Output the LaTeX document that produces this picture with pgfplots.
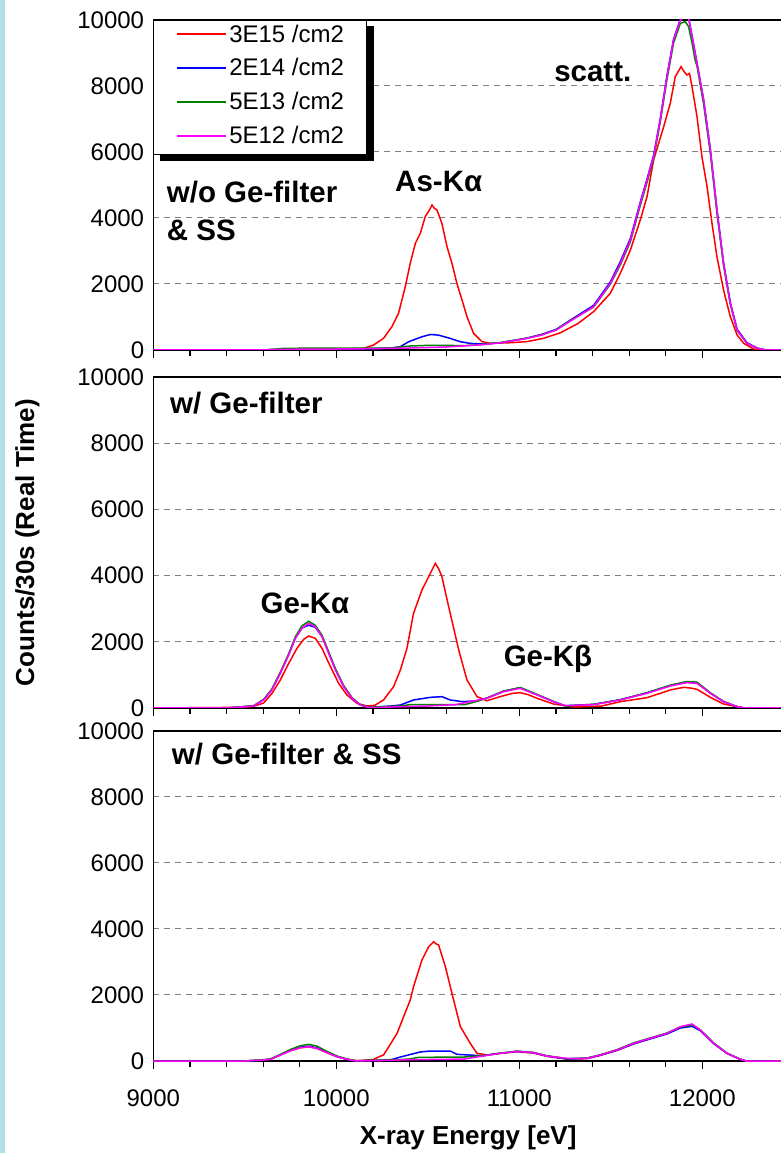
\documentclass[border=0pt]{standalone}
\usepackage{fontspec}
\setmainfont{Liberation Sans}
\usepackage{pgfplots}
\pgfplotsset{compat=1.18}
\definecolor{stripcol}{RGB}{176,224,230}
\definecolor{gridgray}{RGB}{128,128,128}
\definecolor{xred}{RGB}{255,0,0}
\definecolor{xblue}{RGB}{0,0,255}
\definecolor{xgreen}{RGB}{0,128,0}
\definecolor{xmag}{RGB}{255,0,255}
\newcommand{\tickfont}{\fontsize{24}{24}\selectfont}
\newcommand{\annfont}{\fontsize{29.5}{30}\selectfont\bfseries}
\tikzset{ann/.style={font=\annfont, anchor=base west, inner sep=0pt}}
\pgfplotsset{
 panel/.style={
  scale only axis, width=629.7pt, height=330pt, anchor=south west,
  xmin=9000, xmax=12441, ymin=0, ymax=10000,
  xtick={9000,10000,11000,12000}, minor x tick num=4,
  ytick={0,2000,4000,6000,8000,10000},
  tick align=outside, xtick pos=left, ytick pos=left,
  ytick style={draw=none},
  major tick length=8pt, minor tick length=6pt,
  xtick style={black, line width=1.2pt},
  ymajorgrids, grid style={gridgray, line width=1pt, dash pattern=on 6pt off 5pt},
  axis line style={black, line width=1.5pt},
  scaled y ticks=false, scaled x ticks=false,
  /pgf/number format/assume math mode=true,
  /pgf/number format/1000 sep={},
  yticklabel style={font=\tickfont, anchor=east, inner sep=0pt, xshift=-1pt},
  xticklabel style={font=\tickfont, yshift=-17pt},
  every axis plot/.append style={line width=1.5pt},
 },
}
\begin{document}
\begin{tikzpicture}
\useasboundingbox (0,0) rectangle (780pt,1153pt);
\fill[stripcol] (0,0) rectangle (5pt,1153pt);

% ---------------- Panel 1 ----------------
\begin{axis}[panel, at={(153.3pt,803pt)}, xticklabels={},
  legend style={at={(0,1)}, anchor=north west, draw=none, fill=none,
    font=\tickfont, inner xsep=19.5pt, inner ysep=4.5pt, row sep=15pt,
    nodes={inner xsep=2.5pt, inner ysep=0pt}},
  legend cell align=left,
  legend image code/.code={\path[draw=none] (0pt,0pt) -- (53pt,0pt); \draw[#1, line width=1.5pt] (4pt,0pt) -- (53pt,0pt);}]
\addplot[xred] coordinates {(9000,0) (9600,0) (9800,10) (10000,20) (10150,50) (10204,152) (10258,354) (10304,707) (10340,1111) (10377,1919) (10404,2626) (10432,3232) (10459,3535) (10486,4040) (10510,4250) (10523,4394) (10535,4300) (10550,4242) (10577,3838) (10605,3131) (10632,2626) (10659,2020) (10687,1515) (10714,1010) (10750,505) (10796,253) (10842,202) (10950,220) (11042,253) (11130,350) (11224,520) (11320,800) (11406,1162) (11497,1717) (11552,2323) (11607,3030) (11661,3939) (11698,4646) (11734,5758) (11789,6768) (11825,7475) (11852,8282) (11884,8586) (11898,8450) (11916,8333) (11930,8380) (11944,7980) (11971,7070) (11998,5858) (12026,4949) (12053,3838) (12080,2828) (12116,1818) (12153,1010) (12190,455) (12226,202) (12280,30) (12330,0) (12441,0)};
\addlegendentry{3E15 /cm2}
\addplot[xblue] coordinates {(9000,0) (9600,0) (9700,20) (10000,30) (10200,40) (10300,60) (10350,100) (10395,250) (10468,400) (10514,470) (10559,450) (10623,350) (10678,250) (10732,200) (10805,180) (10900,220) (11042,360) (11120,470) (11200,620) (11300,980) (11406,1350) (11497,2060) (11552,2680) (11607,3380) (11661,4480) (11698,5180) (11734,5900) (11770,7000) (11807,8320) (11843,9420) (11880,10020) (11907,10100) (11925,10080) (11944,9520) (11971,8700) (12007,7600) (12044,6080) (12080,4260) (12116,2650) (12153,1440) (12190,630) (12244,220) (12299,60) (12350,0) (12441,0)};
\addlegendentry{2E14 /cm2}
\addplot[xgreen] coordinates {(9000,0) (9600,0) (9716,50) (10000,60) (10200,60) (10300,60) (10400,120) (10500,140) (10600,140) (10700,130) (10800,170) (10900,230) (11042,360) (11120,460) (11200,610) (11300,960) (11406,1300) (11497,1990) (11552,2580) (11607,3280) (11661,4380) (11698,5080) (11734,5800) (11770,6900) (11807,8200) (11843,9300) (11880,9900) (11907,9950) (11925,9800) (11944,9300) (11960,8800) (11971,8600) (12007,7450) (12044,5950) (12080,4150) (12116,2560) (12153,1380) (12190,590) (12244,200) (12299,50) (12350,0) (12441,0)};
\addlegendentry{5E13 /cm2}
\addplot[xmag] coordinates {(9000,0) (9600,0) (9700,20) (10000,30) (10200,40) (10400,60) (10600,90) (10800,160) (10900,220) (11042,350) (11120,450) (11200,600) (11300,950) (11406,1313) (11497,2020) (11552,2626) (11607,3333) (11661,4444) (11698,5150) (11734,5858) (11770,6970) (11807,8282) (11843,9394) (11880,10000) (11907,10100) (11925,10050) (11944,9495) (11971,8687) (12007,7576) (12044,6060) (12080,4242) (12116,2626) (12153,1414) (12190,606) (12244,202) (12299,50) (12350,0) (12441,0)};
\addlegendentry{5E12 /cm2}
% legend frame with solid shadow
\fill[black] (rel axis cs:0.0103,0.9803) rectangle (rel axis cs:0.3497,0.5712);
\filldraw[fill=white, draw=black, line width=1pt] (rel axis cs:0.0008,0.9985) rectangle (rel axis cs:0.3389,0.5909);
\node[ann] at (axis cs:9073,4475) {w/o Ge-filter};
\node[ann] at (axis cs:9073,3312) {\& SS};
\node[ann] at (axis cs:10321,4797) {As-Kα};
\node[ann] at (axis cs:11190,8131) {scatt.};
\end{axis}

% ---------------- Panel 2 ----------------
\begin{axis}[panel, at={(153.3pt,445pt)}, height=331pt, xticklabels={},
  ylabel={\fontsize{26}{26}\selectfont\bfseries Counts/30s (Real Time)},
  every axis y label/.style={at={(axis description cs:-0.1999,0.5)}, rotate=90, anchor=center}]
\addplot[xred] coordinates {(9000,0) (9500,20) (9548,50) (9603,150) (9650,450) (9694,846) (9740,1349) (9785,1802) (9822,2075) (9849,2175) (9885,2105) (9922,1802) (9968,1248) (10013,745) (10058,393) (10113,141) (10168,60) (10210,80) (10258,242) (10313,644) (10350,1148) (10386,1800) (10422,2860) (10468,3565) (10514,4068) (10541,4370) (10560,4200) (10577,3967) (10614,3061) (10669,1752) (10714,846) (10769,342) (10823,220) (10900,350) (10960,440) (11005,463) (11050,400) (11097,292) (11187,121) (11300,30) (11450,60) (11552,191) (11698,312) (11825,544) (11898,625) (11940,600) (11971,564) (12044,322) (12116,121) (12190,40) (12230,0) (12441,0)};
\addplot[xblue] coordinates {(9000,0) (9400,0) (9548,60) (9603,250) (9648,560) (9694,1060) (9740,1620) (9776,2110) (9812,2420) (9849,2500) (9885,2440) (9922,2160) (9958,1680) (9995,1170) (10040,660) (10086,300) (10131,90) (10180,20) (10300,60) (10350,90) (10422,242) (10514,322) (10577,342) (10623,242) (10690,190) (10769,220) (10823,300) (10914,510) (11005,610) (11097,400) (11187,190) (11251,70) (11406,110) (11552,250) (11698,460) (11825,680) (11916,790) (11971,760) (12044,450) (12116,190) (12190,40) (12230,0) (12441,0)};
\addplot[xgreen] coordinates {(9000,0) (9400,0) (9548,70) (9603,260) (9648,570) (9694,1080) (9740,1640) (9776,2150) (9812,2480) (9849,2620) (9885,2500) (9922,2200) (9958,1700) (9995,1190) (10040,680) (10086,310) (10131,100) (10180,20) (10350,60) (10400,100) (10700,100) (10769,200) (10823,300) (10914,510) (11005,620) (11097,410) (11187,200) (11251,60) (11406,110) (11552,250) (11698,460) (11825,690) (11916,800) (11971,780) (12044,460) (12116,200) (12190,40) (12230,0) (12441,0)};
\addplot[xmag] coordinates {(9000,0) (9400,0) (9548,60) (9603,242) (9648,544) (9694,1047) (9740,1601) (9776,2105) (9812,2407) (9849,2558) (9885,2457) (9922,2155) (9958,1651) (9995,1148) (10040,644) (10086,292) (10131,91) (10180,10) (10300,30) (10500,60) (10650,100) (10732,191) (10823,292) (10914,493) (11005,594) (11097,393) (11187,191) (11251,70) (11406,100) (11552,242) (11698,443) (11825,665) (11916,765) (11971,745) (12044,443) (12116,191) (12190,40) (12230,0) (12441,0)};
\node[ann] at (axis cs:9091,8903) {w/ Ge-filter};
\node[ann] at (axis cs:9586,2861) {Ge-Kα};
\node[ann] at (axis cs:10914,1248) {Ge-Kβ};
\end{axis}

% ---------------- Panel 3 ----------------
\begin{axis}[panel, at={(153.3pt,92pt)},
  xlabel={\fontsize{26}{26}\selectfont\bfseries X-ray Energy [eV]},
  every axis x label/.style={at={(axis description cs:0.5,-0.2333)}, anchor=center}]
\addplot[xred] coordinates {(9000,0) (9500,0) (9600,30) (9639,50) (9694,180) (9749,310) (9803,400) (9849,430) (9894,380) (9949,250) (10004,130) (10058,50) (10110,10) (10200,40) (10230,120) (10258,182) (10286,424) (10332,838) (10368,1343) (10404,1848) (10422,2252) (10468,3060) (10505,3464) (10532,3616) (10545,3550) (10559,3515) (10596,2858) (10632,2050) (10678,1040) (10732,535) (10769,232) (10823,182) (10896,230) (10987,280) (11078,240) (11151,140) (11260,60) (11369,70) (11443,170) (11534,320) (11625,520) (11716,680) (11807,830) (11880,1030) (11944,1100) (11989,930) (12062,530) (12135,230) (12208,50) (12240,0) (12441,0)};
\addplot[xblue] coordinates {(9000,0) (9500,0) (9600,30) (9639,50) (9694,185) (9749,320) (9803,420) (9849,450) (9894,400) (9949,260) (10004,135) (10058,50) (10110,0) (10300,40) (10350,121) (10459,273) (10514,303) (10623,303) (10659,202) (10723,182) (10800,160) (10896,235) (10987,290) (11078,250) (11151,150) (11260,60) (11369,80) (11443,175) (11534,325) (11625,520) (11716,670) (11807,820) (11880,1000) (11944,1050) (11989,920) (12062,530) (12135,230) (12208,50) (12240,0) (12441,0)};
\addplot[xgreen] coordinates {(9000,0) (9500,0) (9600,40) (9639,60) (9694,200) (9749,350) (9803,460) (9849,505) (9894,450) (9949,290) (10004,150) (10058,60) (10110,10) (10300,30) (10400,60) (10450,110) (10700,121) (10800,160) (10896,240) (10987,300) (11078,260) (11151,160) (11260,70) (11369,90) (11443,190) (11534,345) (11625,550) (11716,700) (11807,850) (11880,1030) (11944,1090) (11989,950) (12062,550) (12135,240) (12208,55) (12240,0) (12441,0)};
\addplot[xmag] coordinates {(9000,0) (9500,0) (9600,30) (9639,50) (9694,182) (9749,313) (9803,404) (9849,434) (9894,384) (9949,253) (10004,131) (10058,50) (10110,0) (10300,20) (10400,40) (10600,50) (10700,60) (10800,150) (10896,232) (10987,293) (11078,253) (11151,151) (11260,81) (11369,81) (11443,182) (11534,333) (11625,535) (11716,687) (11807,838) (11880,1040) (11944,1121) (11989,939) (12062,535) (12135,232) (12208,50) (12240,0) (12441,0)};
\node[ann] at (axis cs:9101,8991) {w/ Ge-filter \& SS};
\end{axis}
\end{tikzpicture}
\end{document}
